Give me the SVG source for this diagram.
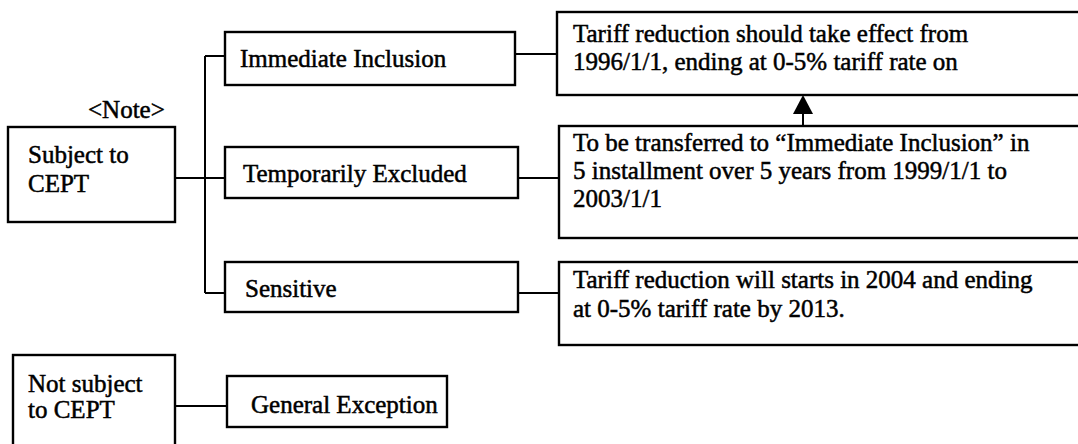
<svg xmlns="http://www.w3.org/2000/svg" width="1078" height="444" viewBox="0 0 1078 444">
  <style>
    .box { fill: #ffffff; stroke: #000000; stroke-width: 2.4; }
    .wire { fill: none; stroke: #000000; stroke-width: 2; }
    text { font-family: "Liberation Serif", "Times New Roman", serif; font-size: 25px; fill: #000000; stroke: #000000; stroke-width: 0.5; }
  </style>
  <rect x="0" y="0" width="1078" height="444" fill="#ffffff"/>

  <!-- connectors -->
  <g id="connectors">
    <path class="wire" d="M175 178 H225"/>
    <path class="wire" d="M205 56 V293"/>
    <path class="wire" d="M205 56 H225"/>
    <path class="wire" d="M205 293 H225"/>
    <path class="wire" d="M515 54 H557"/>
    <path class="wire" d="M518 178 H559"/>
    <path class="wire" d="M518 293 H559"/>
    <path class="wire" d="M803 126 V112"/>
    <polygon points="803,95 793,114 813,114" fill="#000000"/>
    <path class="wire" d="M175 406 H227"/>
  </g>

  <g id="subject">
    <text x="88" y="118">&lt;Note&gt;</text>
    <rect class="box" x="8" y="127" width="167" height="95"/>
    <text x="28" y="163">Subject to</text>
    <text x="28" y="192">CEPT</text>
  </g>

  <g id="immediate">
    <rect class="box" x="225" y="32" width="290" height="53"/>
    <text x="240" y="67">Immediate Inclusion</text>
  </g>

  <g id="temporary">
    <rect class="box" x="225" y="147" width="293" height="51"/>
    <text x="243" y="182">Temporarily Excluded</text>
  </g>

  <g id="sensitive">
    <rect class="box" x="225" y="262" width="293" height="50"/>
    <text x="245" y="297">Sensitive</text>
  </g>

  <g id="immediate-detail">
    <rect class="box" x="557" y="12" width="540" height="83"/>
    <text x="573" y="42">Tariff reduction should take effect from</text>
    <text x="573" y="70">1996/1/1, ending at 0-5% tariff rate on</text>
  </g>

  <g id="temporary-detail">
    <rect class="box" x="559" y="126" width="540" height="112"/>
    <text x="573" y="151">To be transferred to “Immediate Inclusion” in</text>
    <text x="573" y="179">5 installment over 5 years from 1999/1/1 to</text>
    <text x="573" y="207">2003/1/1</text>
  </g>

  <g id="sensitive-detail">
    <rect class="box" x="559" y="262" width="540" height="83"/>
    <text x="573" y="288">Tariff reduction will starts in 2004 and ending</text>
    <text x="573" y="317">at 0-5% tariff rate by 2013.</text>
  </g>

  <g id="not-subject">
    <rect class="box" x="13" y="355" width="162" height="100"/>
    <text x="28" y="392">Not subject</text>
    <text x="28" y="418">to CEPT</text>
  </g>

  <g id="general-exception">
    <rect class="box" x="227" y="376" width="220" height="51"/>
    <text x="251" y="413">General Exception</text>
  </g>
</svg>
